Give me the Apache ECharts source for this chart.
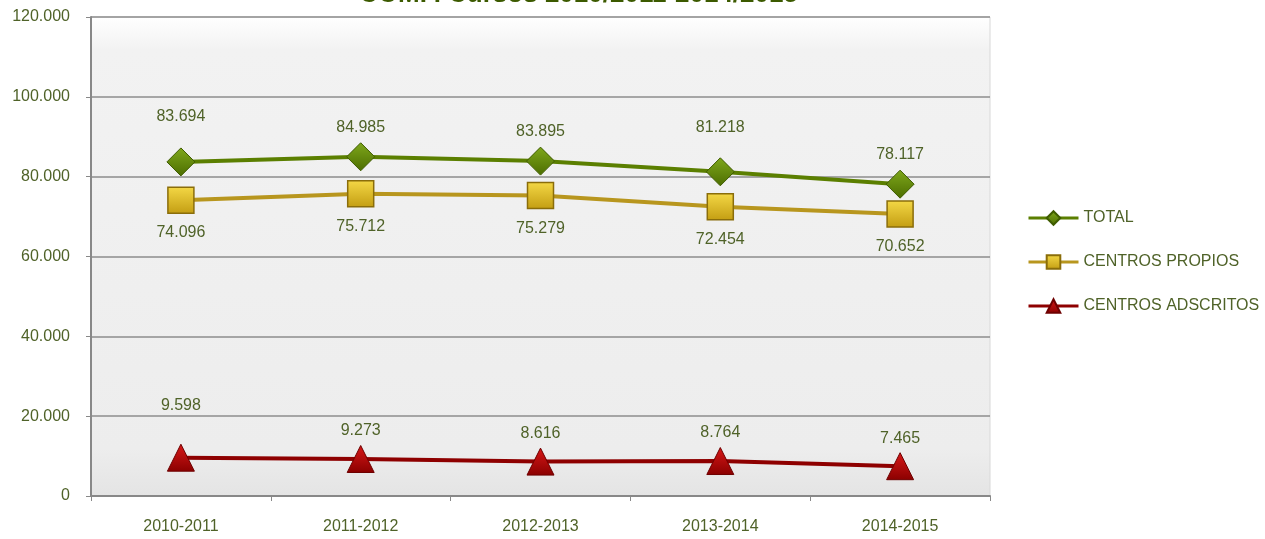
<!DOCTYPE html>
<html>
<head>
<meta charset="utf-8">
<script src="https://cdn.jsdelivr.net/npm/echarts@6/dist/echarts.min.js"></script>
<style>
  html, body { margin: 0; padding: 0; background: #fff; }
  #main { width: 1265px; height: 539px; }
</style>
</head>
<body>
<div id="main"></div>
<script>
var cursos = ['2010-2011', '2011-2012', '2012-2013', '2013-2014', '2014-2015'];
var total = [83694, 84985, 83895, 81218, 78117];
var propios = [74096, 75712, 75279, 72454, 70652];
var adscritos = [9598, 9273, 8616, 8764, 7465];

// extra lift for some labels, as in the original
var totalLift = [16, 0, 0, 15, 0];
var adscritosLift = [24, 0, 0, 0, 0];

var txt = '#4f6228';
var font = 'Liberation Sans, Arial';

function fmt(v) {
    return String(v).replace(/\B(?=(\d{3})+(?!\d))/g, '.');
}

function withLift(vals, lift) {
    return vals.map(function (v, i) {
        return { value: v, label: { offset: [0, -lift[i]] } };
    });
}

function grad(top, bottom) {
    return new echarts.graphic.LinearGradient(0, 0, 0, 1, [
        { offset: 0, color: top }, { offset: 1, color: bottom }
    ]);
}

var chart = echarts.init(document.getElementById('main'));

var option = {
    backgroundColor: '#fff',
    animation: false,
    title: {
        text: 'COMP. Cursos 2010/2011-2014/2015',
        left: 354,
        top: -23,
        textStyle: { color: '#3c5a00', fontSize: 26, fontWeight: 'bold', fontFamily: font }
    },
    legend: {
        orient: 'vertical',
        left: 1022,
        top: 205,
        itemGap: 28,
        itemWidth: 50,
        itemHeight: 17,
        lineStyle: { width: 3 },
        textStyle: { color: txt, fontSize: 16, fontFamily: font },
        data: ['TOTAL', 'CENTROS PROPIOS', 'CENTROS ADSCRITOS']
    },
    grid: {
        left: 91,
        right: 275,
        top: 17,
        bottom: 43,
        show: true,
        borderColor: '#d8d8d8',
        borderWidth: 1,
        backgroundColor: new echarts.graphic.LinearGradient(0, 0, 0, 1, [
            { offset: 0, color: '#ffffff' },
            { offset: 0.07, color: '#f2f2f2' },
            { offset: 0.9, color: '#ededed' },
            { offset: 1, color: '#e4e4e4' }
        ])
    },
    xAxis: {
        type: 'category',
        data: cursos,
        boundaryGap: true,
        axisLine: { lineStyle: { color: '#888', width: 2 } },
        axisTick: { show: true, length: 5, lineStyle: { color: '#888' } },
        axisLabel: { color: txt, fontSize: 16, margin: 23, fontFamily: font }
    },
    yAxis: {
        type: 'value',
        min: 0,
        max: 120000,
        interval: 20000,
        axisLine: { show: true, lineStyle: { color: '#888', width: 2 } },
        axisTick: { show: true, length: 5, lineStyle: { color: '#888' } },
        splitLine: { lineStyle: { color: '#8c8c8c', width: 1.5 } },
        axisLabel: { color: txt, fontSize: 16, margin: 21, fontFamily: font, formatter: fmt }
    },
    series: [
        {
            name: 'TOTAL',
            type: 'line',
            data: withLift(total, totalLift),
            symbol: 'diamond',
            symbolSize: 28,
            lineStyle: { color: '#5b7f00', width: 4 },
            itemStyle: { color: grad('#7fa81c', '#4c6d00'), borderColor: '#3f5c00', borderWidth: 1 },
            label: {
                show: true, position: 'top', distance: 7, color: txt, fontSize: 16,
                fontFamily: font,
                formatter: function (p) { return fmt(p.value); }
            },
            z: 3
        },
        {
            name: 'CENTROS PROPIOS',
            type: 'line',
            data: propios,
            symbol: 'rect',
            symbolSize: 26,
            lineStyle: { color: '#b8961e', width: 4 },
            itemStyle: { color: grad('#f4d846', '#c39d12'), borderColor: '#8a6d0a', borderWidth: 1.5 },
            label: {
                show: true, position: 'bottom', distance: 11, color: txt, fontSize: 16,
                fontFamily: font,
                formatter: function (p) { return fmt(p.value); }
            },
            z: 2
        },
        {
            name: 'CENTROS ADSCRITOS',
            type: 'line',
            data: withLift(adscritos, adscritosLift),
            symbol: 'triangle',
            symbolSize: 27,
            lineStyle: { color: '#8e0000', width: 4 },
            itemStyle: { color: grad('#d81818', '#8a0000'), borderColor: '#6e0000', borderWidth: 1 },
            label: {
                show: true, position: 'top', distance: 6, color: txt, fontSize: 16,
                fontFamily: font,
                formatter: function (p) { return fmt(p.value); }
            },
            z: 2
        }
    ]
};

chart.setOption(option);
</script>
</body>
</html>
